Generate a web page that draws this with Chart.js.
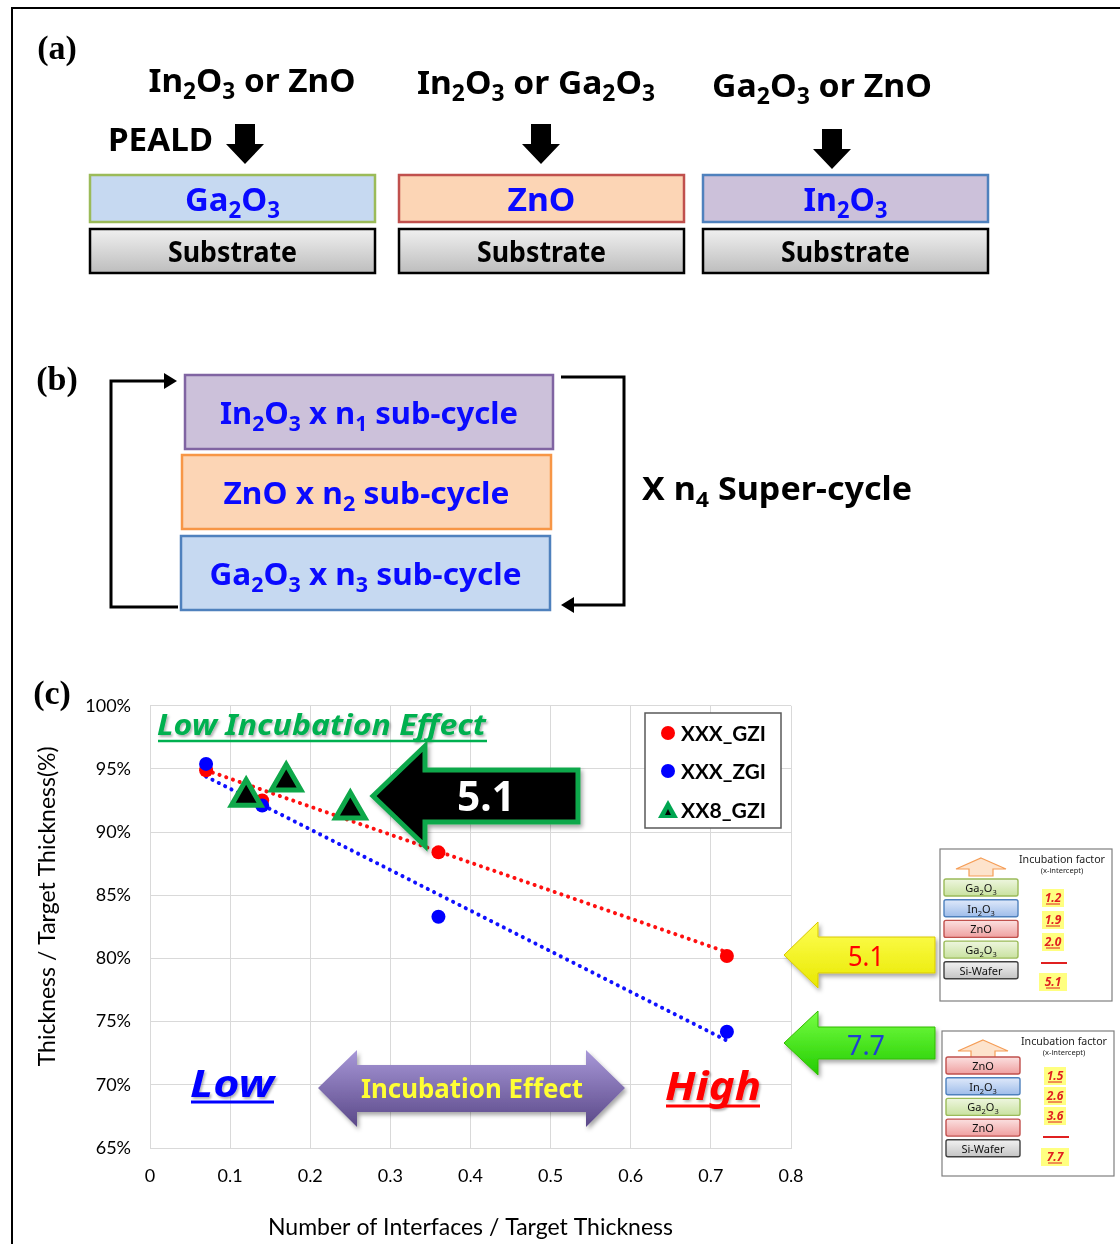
<!DOCTYPE html>
<html>
<head>
<meta charset="utf-8">
<script src="https://cdn.jsdelivr.net/npm/chart.js@4.4.1/dist/chart.umd.min.js"></script>
<style>
  html, body { margin: 0; padding: 0; background: #fff; }
  #wrap { position: relative; width: 1120px; height: 1244px; overflow: hidden; }
  #chartBox { position: absolute; left: 0; top: 676px; width: 830px; height: 568px; }
  #deco { position: absolute; left: 0; top: 0; width: 1120px; height: 1244px; pointer-events: none; }
</style>
</head>
<body>
<div id="wrap">
  <div id="chartBox"><canvas id="chart"></canvas></div>
  <svg id="deco" xmlns="http://www.w3.org/2000/svg" width="1120" height="1244" viewBox="0 0 1120 1244"></svg>
</div>
<script>
// --- data (panel c) ---
const seriesNames = ['XXX_GZI', 'XXX_ZGI', 'XX8_GZI'];
const gziX = [0.07, 0.14, 0.36, 0.72];
const gziY = [94.9, 92.5, 88.4, 80.2];
const zgiX = [0.07, 0.14, 0.36, 0.72];
const zgiY = [95.4, 92.1, 83.3, 74.2];
const xx8X = [0.12, 0.17, 0.25];
const xx8Y = [92.8, 94.0, 91.8];
// dotted trend lines (end points)
const fitX = [0.07, 0.72];
const fitGziY = [94.9, 80.5];
const fitZgiY = [94.4, 73.5];
// axes
const xMin = 0, xMax = 0.8, xStep = 0.1;
const yMin = 65, yMax = 100, yStep = 5;
const xTitle = 'Number of Interfaces / Target Thickness';
// leading spaces push the rotated title up a little, as in the figure
const yTitle = '       Thickness / Target Thickness(%)';
// incubation factors in the insets
const stackA = ['Ga_2O_3', 'In_2O_3', 'ZnO', 'Ga_2O_3', 'Si-Wafer'];
const factorsA = ['1.2', '1.9', '2.0', '5.1'];
const stackB = ['ZnO', 'In_2O_3', 'Ga_2O_3', 'ZnO', 'Si-Wafer'];
const factorsB = ['1.5', '2.6', '3.6', '7.7'];

const pts = (xs, ys) => xs.map((x, i) => ({ x: x, y: ys[i] }));
const tickFont = { family: 'Lato, sans-serif', size: 18 };

const ctx = document.getElementById('chart').getContext('2d');
new Chart(ctx, {
  type: 'scatter',
  data: {
    datasets: [
      { label: 'fit GZI', data: pts(fitX, fitGziY), showLine: true, borderColor: '#ff1010',
        borderWidth: 4, borderDash: [0.1, 7], borderCapStyle: 'round', pointRadius: 0, order: 5 },
      { label: 'fit ZGI', data: pts(fitX, fitZgiY), showLine: true, borderColor: '#1010ff',
        borderWidth: 4, borderDash: [0.1, 7], borderCapStyle: 'round', pointRadius: 0, order: 4 },
      { label: seriesNames[0], data: pts(gziX, gziY), backgroundColor: '#ff0000', borderWidth: 0,
        pointRadius: 7, order: 3 },
      { label: seriesNames[1], data: pts(zgiX, zgiY), backgroundColor: '#0000ff', borderWidth: 0,
        pointRadius: 7, order: 2 },
      { label: seriesNames[2], data: pts(xx8X, xx8Y), pointStyle: 'triangle', backgroundColor: '#000',
        borderColor: '#0fa84a', borderWidth: 5, pointRadius: 17, order: 1 }
    ]
  },
  options: {
    responsive: true,
    maintainAspectRatio: false,
    animation: false,
    layout: { padding: { top: 10, right: 39, bottom: 0, left: 0 } },
    plugins: { legend: { display: false }, tooltip: { enabled: false } },
    scales: {
      x: {
        type: 'linear', min: xMin, max: xMax,
        ticks: { stepSize: xStep, font: tickFont, color: '#000', padding: 17 },
        grid: { color: '#d9d9d9', drawTicks: false },
        border: { color: '#d9d9d9' },
        title: { display: true, text: xTitle, color: '#000',
                 font: { family: 'Lato, sans-serif', size: 23 }, padding: { top: 0, bottom: 3 } },
        afterFit: s => { s.height = 96; }
      },
      y: {
        min: yMin, max: yMax,
        ticks: { stepSize: yStep, font: tickFont, color: '#000', padding: 19, callback: v => v + '%' },
        grid: { color: '#d9d9d9', drawTicks: false },
        border: { color: '#d9d9d9' },
        title: { display: true, text: yTitle, color: '#000',
                 font: { family: 'Lato, sans-serif', size: 23 }, padding: { top: 34, bottom: 0 } },
        afterFit: s => { s.width = 150; }
      }
    }
  }
});

// --- diagram panels and annotations ---
const KR = "'Noto Sans','Noto Sans CJK KR',sans-serif";
function sub(str, shift) {
  return str.replace(/_(\d)(.?)/g, (m, d, n) =>
    `<tspan dy="${shift}" font-size="68%">${d}</tspan>` + (n ? `<tspan dy="-${shift}">${n}</tspan>` : ''));
}
function txt(x, y, str, o) {
  o = o || {};
  const a = [`x="${x}"`, `y="${y}"`, `font-family="${o.fam || KR}"`, `font-size="${o.size || 30}"`,
    `font-weight="${o.w || 'bold'}"`, `fill="${o.fill || '#000'}"`, `text-anchor="${o.anchor || 'middle'}"`];
  if (o.len) a.push(`textLength="${o.len}" lengthAdjust="spacingAndGlyphs"`);
  if (o.italic) a.push('font-style="italic"');
  if (o.filter) a.push(`filter="url(#${o.filter})"`);
  return `<text ${a.join(' ')}>${sub(str, o.shift || 7)}</text>`;
}
function rect(x, y, w, h, fill, stroke, sw) {
  return `<rect x="${x}" y="${y}" width="${w}" height="${h}" fill="${fill}" stroke="${stroke}" stroke-width="${sw || 2}"/>`;
}
function downArrow(cx, top, tip) {
  const neck = top + 20;
  return `<polygon points="${cx - 10},${top} ${cx + 10},${top} ${cx + 10},${neck} ${cx + 19},${neck} ${cx},${tip} ${cx - 19},${neck} ${cx - 10},${neck}" fill="#000"/>`;
}
function leftArrow(tip, cy, base, end, hh, sh, fill, stroke, sw, filter) {
  return `<polygon points="${tip},${cy} ${base},${cy - hh} ${base},${cy - sh} ${end},${cy - sh} ${end},${cy + sh} ${base},${cy + sh} ${base},${cy + hh}" fill="${fill}" stroke="${stroke}" stroke-width="${sw}" stroke-linejoin="miter" ${filter ? `filter="url(#${filter})"` : ''}/>`;
}

let s = `<defs>
  <linearGradient id="gSub" x1="0" y1="0" x2="0" y2="1"><stop offset="0" stop-color="#f0f0f0"/><stop offset="1" stop-color="#bdbdbd"/></linearGradient>
  <linearGradient id="gYel" x1="0" y1="0" x2="0" y2="1"><stop offset="0" stop-color="#ffff55"/><stop offset="1" stop-color="#e8e800"/></linearGradient>
  <linearGradient id="gGrn" x1="0" y1="0" x2="0" y2="1"><stop offset="0" stop-color="#77ff44"/><stop offset="1" stop-color="#22cc00"/></linearGradient>
  <linearGradient id="gPur" x1="0" y1="0" x2="0" y2="1"><stop offset="0" stop-color="#a898d8"/><stop offset="1" stop-color="#5a4888"/></linearGradient>
  <linearGradient id="lGa" x1="0" y1="0" x2="0" y2="1"><stop offset="0" stop-color="#eef6df"/><stop offset="1" stop-color="#c9e2a0"/></linearGradient>
  <linearGradient id="lIn" x1="0" y1="0" x2="0" y2="1"><stop offset="0" stop-color="#dfe9fa"/><stop offset="1" stop-color="#9fbdea"/></linearGradient>
  <linearGradient id="lZn" x1="0" y1="0" x2="0" y2="1"><stop offset="0" stop-color="#fbe0e0"/><stop offset="1" stop-color="#efa0a0"/></linearGradient>
  <linearGradient id="lSi" x1="0" y1="0" x2="0" y2="1"><stop offset="0" stop-color="#f2f2f2"/><stop offset="1" stop-color="#c4c4c4"/></linearGradient>
  <filter id="sh" x="-20%" y="-20%" width="140%" height="150%"><feDropShadow dx="2" dy="3" stdDeviation="2" flood-color="#000" flood-opacity="0.35"/></filter>
  <filter id="tsh" x="-10%" y="-20%" width="120%" height="150%"><feDropShadow dx="1.5" dy="2" stdDeviation="1" flood-color="#000" flood-opacity="0.3"/></filter>
</defs>`;

// frame
s += `<rect x="12" y="8" width="1200" height="1300" fill="none" stroke="#000" stroke-width="2"/>`;

// panel (a)
s += txt(57, 59, '(a)', { fam: "'Liberation Serif',serif", size: 34 });
s += txt(252, 92, 'In_2O_3 or ZnO', { size: 33, len: 207 });
s += txt(536, 94, 'In_2O_3 or Ga_2O_3', { size: 33, len: 238 });
s += txt(822, 97, 'Ga_2O_3 or ZnO', { size: 33, len: 220 });
s += txt(108, 151, 'PEALD', { size: 33, anchor: 'start', len: 105 });
s += downArrow(245, 124, 164) + downArrow(541, 124, 164) + downArrow(832, 129, 169);
const topBoxes = [
  { x: 90, fill: '#c6d9f1', stroke: '#9bbb59', t: 'Ga_2O_3', len: 95 },
  { x: 399, fill: '#fcd5b5', stroke: '#c0504d', t: 'ZnO', len: 68 },
  { x: 703, fill: '#ccc1da', stroke: '#4f81bd', t: 'In_2O_3', len: 84 }
];
topBoxes.forEach(b => {
  s += rect(b.x, 175, 285, 47, b.fill, b.stroke, 2.5);
  s += txt(b.x + 142.5, 211, b.t, { size: 33, fill: '#0a0aff', len: b.len });
  s += rect(b.x, 229, 285, 44, 'url(#gSub)', '#000', 2.5);
  s += txt(b.x + 142.5, 262, 'Substrate', { size: 29, len: 129 });
});

// panel (b)
s += txt(57, 390, '(b)', { fam: "'Liberation Serif',serif", size: 34 });
const cycBoxes = [
  { x: 185, y: 375, w: 368, fill: '#ccc1da', stroke: '#8064a2', t: 'In_2O_3 x n_1 sub-cycle', len: 298 },
  { x: 182, y: 455, w: 369, fill: '#fcd5b5', stroke: '#f79646', t: 'ZnO x n_2 sub-cycle', len: 286 },
  { x: 181, y: 536, w: 369, fill: '#c6d9f1', stroke: '#4f81bd', t: 'Ga_2O_3 x n_3 sub-cycle', len: 312 }
];
cycBoxes.forEach(b => {
  s += rect(b.x, b.y, b.w, 74, b.fill, b.stroke, 2.5);
  s += txt(b.x + b.w / 2, b.y + 49, b.t, { size: 31, fill: '#0a0aff', len: b.len });
});
s += `<polyline points="178,607 111,607 111,381 166,381" fill="none" stroke="#000" stroke-width="3"/>`;
s += `<polygon points="177,381 164,373 164,389" fill="#000"/>`;
s += `<polyline points="561,377 624,377 624,605 572,605" fill="none" stroke="#000" stroke-width="3"/>`;
s += `<polygon points="561,605 574,597 574,613" fill="#000"/>`;
s += txt(642, 500, 'X n_4 Super-cycle', { size: 32, anchor: 'start', len: 270 });

// panel (c)
s += txt(52, 704, '(c)', { fam: "'Liberation Serif',serif", size: 34 });

// legend
s += rect(645, 713, 136, 115, '#fff', '#595959', 1.5);
s += `<circle cx="668" cy="733" r="7" fill="#ff0000"/>`;
s += `<circle cx="668" cy="771" r="7" fill="#0000ff"/>`;
s += `<polygon points="668,800 678,818 658,818" fill="#00a651"/><polygon points="668,809 671,815 665,815" fill="#000"/>`;
[741, 779, 818].forEach((y, i) => {
  s += txt(681, y, seriesNames[i], { fam: 'Lato,sans-serif', size: 20, anchor: 'start', len: 85 });
});

// "Low Incubation Effect"
s += txt(157, 735, 'Low Incubation Effect', { size: 28, italic: true, fill: '#00b050', anchor: 'start', len: 329, filter: 'tsh' });
s += `<line x1="158" y1="741" x2="487" y2="741" stroke="#00b050" stroke-width="2.5"/>`;

// black arrow 5.1
s += leftArrow(373, 796, 425, 578, 50, 26, '#000', '#10a84c', 5, 'sh');
s += txt(486, 811, '5.1', { size: 42, fill: '#fff', len: 58 });

// yellow / green side arrows
s += leftArrow(784, 955, 818, 935, 33, 18, 'url(#gYel)', '#d8c800', 1, 'sh');
s += txt(866, 966, '5.1', { size: 28, w: 'normal', fill: '#ff0000', len: 36 });
s += leftArrow(784, 1043, 818, 935, 32, 16, 'url(#gGrn)', '#33bb00', 1, 'sh');
s += txt(866, 1055, '7.7', { size: 28, w: 'normal', fill: '#2040d0', len: 38 });

// purple double arrow
s += `<polygon points="318,1088 357,1050 357,1065 586,1065 586,1050 625,1088 586,1127 586,1112 357,1112 357,1127" fill="url(#gPur)" filter="url(#sh)"/>`;
s += txt(472, 1098, 'Incubation Effect', { size: 26, fill: '#ffff33', len: 222 });

// Low / High
s += txt(190, 1097, 'Low', { size: 38, italic: true, fill: '#0000ff', anchor: 'start', len: 84, filter: 'tsh' });
s += `<line x1="191" y1="1102" x2="274" y2="1102" stroke="#0000ff" stroke-width="3"/>`;
s += txt(665, 1100, 'High', { size: 40, italic: true, fill: '#ff0000', anchor: 'start', len: 96, filter: 'tsh' });
s += `<line x1="666" y1="1106" x2="760" y2="1106" stroke="#ff0000" stroke-width="3"/>`;

// insets
function inset(bx, by, bw, bh, lx, ly0, stack, factors, fy) {
  let o = rect(bx, by, bw, bh, '#fff', '#7f7f7f', 1.2);
  const ax = lx + 37, ay = by + 9;
  o += `<polygon points="${ax},${ay} ${ax + 25},${ay + 11} ${ax + 12},${ay + 11} ${ax + 12},${ay + 18} ${ax - 12},${ay + 18} ${ax - 12},${ay + 11} ${ax - 25},${ay + 11}" fill="#fde3cc" stroke="#f59d56" stroke-width="1.2"/>`;
  o += txt(bx + 122, by + 14, 'Incubation factor', { size: 11, w: 'normal', fill: '#222', len: 86 });
  o += txt(bx + 122, by + 24, '(x-intercept)', { size: 7.5, w: 'normal', fill: '#222' });
  const styles = { 'Ga_2O_3': ['url(#lGa)', '#9bbb59'], 'In_2O_3': ['url(#lIn)', '#4f81bd'],
                   'ZnO': ['url(#lZn)', '#c0504d'], 'Si-Wafer': ['url(#lSi)', '#404040'] };
  stack.forEach((name, i) => {
    const y = ly0 + i * 20.7;
    const st = styles[name];
    o += `<rect x="${lx}" y="${y}" width="74" height="17" rx="2" fill="${st[0]}" stroke="${st[1]}" stroke-width="1.4"/>`;
    o += txt(lx + 37, y + 13, name, { size: 11, w: 'normal', fill: '#111', shift: 3 });
  });
  factors.forEach((f, i) => {
    const cy = i < 3 ? fy[i] : fy[3];
    const w = i < 3 ? 22 : 28;
    o += `<rect x="${bx + 113 - w / 2}" y="${cy - 9}" width="${w}" height="18" fill="#ffff80"/>`;
    o += txt(bx + 113, cy + 4, f, { size: 12, italic: true, fill: '#e02020' });
    o += `<line x1="${bx + 106}" y1="${cy + 6}" x2="${bx + 120}" y2="${cy + 6}" stroke="#e02020" stroke-width="1"/>`;
  });
  o += `<line x1="${bx + 101}" y1="${fy[4]}" x2="${bx + 127}" y2="${fy[4]}" stroke="#e02020" stroke-width="2"/>`;
  return o;
}
s += inset(940, 849, 172, 152, 944, 879, stackA, factorsA, [898, 920, 942, 982, 963]);
s += inset(942, 1031, 172, 145, 946, 1057, stackB, factorsB, [1076, 1096, 1116, 1157, 1137]);

document.getElementById('deco').innerHTML = s;
</script>
</body>
</html>
